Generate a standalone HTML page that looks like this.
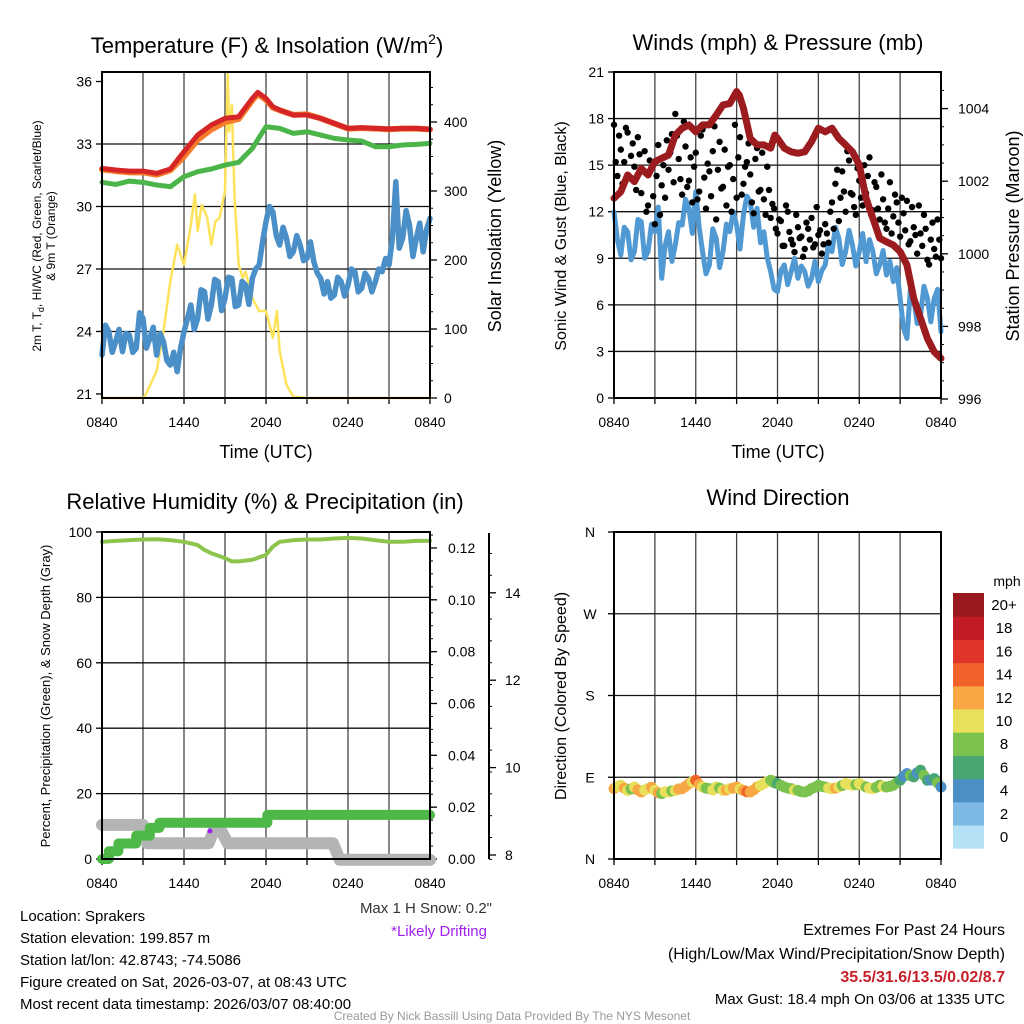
<!DOCTYPE html>
<html><head><meta charset="utf-8">
<style>
html,body{margin:0;padding:0;background:#fff;}
svg{display:block;font-family:"Liberation Sans",Arial,sans-serif;}
</style></head>
<body>
<svg id="chart" width="1024" height="1024" viewBox="0 0 1024 1024" xmlns="http://www.w3.org/2000/svg">
<rect width="1024" height="1024" fill="#fff"/>
<g id="layer"></g>
<text x="267" y="53" font-size="22" text-anchor="middle">Temperature (F) &amp; Insolation (W/m<tspan font-size="14" dy="-9">2</tspan><tspan dy="9">)</tspan></text>
<text x="778" y="50" font-size="22" text-anchor="middle">Winds (mph) &amp; Pressure (mb)</text>
<text x="265" y="509" font-size="22" text-anchor="middle">Relative Humidity (%) &amp; Precipitation (in)</text>
<text x="778" y="505" font-size="22" text-anchor="middle">Wind Direction</text>
<text x="266" y="458" font-size="18" text-anchor="middle">Time (UTC)</text>
<text x="778" y="458" font-size="18" text-anchor="middle">Time (UTC)</text>
<text font-size="12" text-anchor="middle" transform="translate(41,236) rotate(-90)">2m T, T<tspan font-size="9" dy="3">d</tspan><tspan dy="-3">, HI/WC (Red, Green, Scarlet/Blue)</tspan></text>
<text font-size="12" text-anchor="middle" transform="translate(55,236) rotate(-90)">&amp; 9m T (Orange)</text>
<text font-size="18" text-anchor="middle" transform="translate(501,236) rotate(-90)">Solar Insolation (Yellow)</text>
<text font-size="16" text-anchor="middle" transform="translate(566,236) rotate(-90)">Sonic Wind &amp; Gust (Blue, Black)</text>
<text font-size="18" text-anchor="middle" transform="translate(1019,236) rotate(-90)">Station Pressure (Maroon)</text>
<text font-size="13" text-anchor="middle" transform="translate(50,696) rotate(-90)">Percent, Precipitation (Green), &amp; Snow Depth (Gray)</text>
<text font-size="16" text-anchor="middle" transform="translate(566,696) rotate(-90)">Direction (Colored By Speed)</text>
<g font-size="15" fill="#000">
<text x="20" y="921">Location: Sprakers</text>
<text x="20" y="943">Station elevation: 199.857 m</text>
<text x="20" y="965">Station lat/lon: 42.8743; -74.5086</text>
<text x="20" y="987">Figure created on Sat, 2026-03-07, at 08:43 UTC</text>
<text x="20" y="1009">Most recent data timestamp: 2026/03/07 08:40:00</text>
<text x="492" y="913" text-anchor="end" fill="#333">Max 1 H Snow: 0.2"</text>
<text x="487" y="936" text-anchor="end" fill="#a020f0">*Likely Drifting</text>
<text x="1005" y="935" text-anchor="end" font-size="16">Extremes For Past 24 Hours</text>
<text x="1005" y="959" text-anchor="end" font-size="16">(High/Low/Max Wind/Precipitation/Snow Depth)</text>
<text x="1005" y="982" text-anchor="end" font-size="16" font-weight="bold" fill="#c8202a">35.5/31.6/13.5/0.02/8.7</text>
<text x="1005" y="1004" text-anchor="end" font-size="15">Max Gust: 18.4 mph On 03/06 at 1335 UTC</text>
</g>
<text x="512" y="1020" text-anchor="middle" font-size="12" fill="#999">Created By Nick Bassill Using Data Provided By The NYS Mesonet</text>
</svg>
<script>
// ---------- data ----------
const tempTimes = [0,1,2,3,4,5,6,7,8,9,10,11,11.4,12,12.5,13,14,15,16,17,18,19,20,21,22,23,24];
const tempRed = [31.83,31.75,31.70,31.70,31.59,31.80,32.63,33.43,33.91,34.23,34.31,35.19,35.48,35.19,34.79,34.63,34.39,34.39,34.23,33.99,33.75,33.78,33.75,33.72,33.75,33.75,33.70];
const tempOrange = [31.78,31.70,31.64,31.64,31.53,31.74,32.40,33.20,33.70,34.05,34.20,35.10,35.40,35.12,34.75,34.62,34.40,34.42,34.23,33.98,33.74,33.77,33.74,33.71,33.74,33.74,33.70];
const dewTimes = [0,1,2,3,4,5,6,7,8,9,10,11,12,13,14,15,16,17,18,19,20,21,22,23,24];
const dewGreen = [31.16,31.06,31.22,31.16,31.03,30.95,31.43,31.67,31.80,31.99,32.12,32.79,33.83,33.75,33.51,33.59,33.43,33.27,33.19,33.14,32.87,32.87,32.95,32.98,33.03];
// 15-minute series (index * 0.25 h)
const hiwcBlue = [22.87,24.3,23.99,23.0,23.51,24.1,23.03,23.9,23.83,23.0,23.19,24.9,24.63,23.2,23.67,24.2,22.87,23.9,23.51,22.6,22.39,23.0,22.07,23.2,23.99,24.6,25.27,24.1,24.63,26.0,25.91,24.6,25.27,26.5,26.39,25.0,25.59,26.6,26.55,25.2,25.27,26.4,26.23,25.3,26.55,27.0,27.19,28.3,29.27,30.0,29.75,28.6,28.15,29.0,28.47,27.6,27.83,28.6,28.15,27.4,27.51,28.3,27.35,26.8,26.55,25.8,26.39,25.6,25.75,26.6,26.39,25.7,26.23,27.0,26.87,25.9,26.07,26.8,26.55,25.9,26.39,27.0,26.87,27.5,27.19,28.5,31.19,28.0,28.47,29.8,29.1,27.6,28.47,29.2,27.83,28.9,29.43];
const solarTimes = [0,3,3.2,4,4.5,5,5.5,6,6.5,6.8,7,7.3,7.7,8,8.3,8.6,9,9.2,9.3,9.5,9.7,10,10.3,10.5,11,11.5,12,12.5,12.8,13,13.5,14,15,24];
const solarW = [0,0,5,39,97,169,222,193,251,295,242,280,261,222,256,261,300,470,386,425,290,193,174,183,145,126,126,87,126,68,19,2,0,0];

const windSpeed = [12.0,10.2,9.21,11.0,10.71,8.9,9.43,11.5,11.36,9.0,9.43,11.2,10.71,12.3,7.71,9.8,10.71,8.8,9.86,11.3,11.14,12.8,12.22,10.6,13.29,11.0,9.43,8.0,8.57,10.9,10.29,8.4,9.43,11.2,10.71,12.0,11.14,9.6,11.79,13.0,12.65,11.0,12.22,10.0,10.71,9.0,8.14,7.0,6.85,8.2,8.57,7.3,8.14,9.0,7.71,8.5,8.14,7.2,7.71,8.8,7.49,8.2,8.57,10.0,9.43,11.0,10.29,8.6,9.43,10.8,9.86,8.5,9.43,10.6,8.78,10.2,9.43,8.0,8.57,9.5,7.92,8.8,7.49,8.4,6.42,4.5,3.84,7.0,6.42,4.8,5.35,7.2,6.42,4.9,6.42,7.0,4.27];
const pressTimes = [0,0.5,1,1.5,2,2.5,3,3.5,4,4.5,5,5.5,6,6.5,7,7.5,8,8.5,9,9.2,9.5,10,10.5,11,11.5,11.8,12,12.5,13,13.5,14,14.5,15,15.5,16,16.5,17,17.5,18,18.5,19,19.5,20,20.5,21,21.5,22,22.5,23,23.5,24];
const pressMb = [1001.53,1001.71,1002.17,1001.99,1002.35,1002.17,1002.54,1002.63,1002.72,1003.27,1003.46,1003.55,1003.36,1003.55,1003.55,1003.82,1004.10,1004.14,1004.47,1004.37,1004.01,1003.18,1003.00,1003.00,1002.91,1003.27,1003.18,1002.91,1002.81,1002.77,1002.81,1003.09,1003.46,1003.36,1003.46,1003.18,1003.00,1002.81,1002.45,1001.53,1000.98,1000.43,1000.33,1000.24,1000.06,999.69,998.77,998.22,997.67,997.30,997.12];
const gustA = [17.6,14.3,16.0,15.2,17.1,15.6,14.9,16.8,13.2,15.9,12.4,14.8,11.2,16.3,13.7,12.9,14.7,17.0,18.3,15.4,13.1,16.2,14.0,12.6,15.8,13.3,17.3,12.2,14.6,15.9,11.5,16.5,13.6,12.4,15.0,14.1,12.9,16.8,13.8,15.2,14.4,11.9,16.1,13.4,12.8,14.9,11.6,12.2,10.6,11.4,9.8,12.0,10.2,9.4,11.0,10.4,9.6,10.9,11.6,9.9,10.5,9.3,11.2,10.0,12.6,13.8,11.4,14.6,12.0,15.3,13.1,11.8,14.0,12.4,13.2,15.5,12.1,13.6,11.5,12.8,10.9,13.9,11.7,12.6,10.4,11.9,12.7,10.1,11.0,9.3,10.6,11.8,8.9,10.2,9.6,11.5,9.0];
const gustB = [15.2,16.9,13.8,17.4,14.2,16.4,13.4,15.7,14.7,12.0,15.3,13.0,14.3,11.8,15.0,16.6,15.8,13.9,16.9,14.1,17.8,13.6,15.5,14.9,12.8,16.9,14.2,15.1,13.0,17.5,14.7,13.5,16.0,14.9,12.0,17.6,15.5,13.1,14.9,16.4,12.6,15.4,13.3,15.8,11.8,13.4,12.5,10.9,11.5,9.8,12.4,10.7,9.9,11.8,10.3,9.1,11.3,10.2,9.7,12.3,10.8,9.9,10.6,12.0,10.9,14.7,12.9,13.3,15.9,13.2,12.3,14.8,12.9,15.0,14.3,11.8,13.9,12.2,14.4,11.3,12.2,10.6,13.1,11.3,12.9,10.8,9.9,12.3,10.5,12.4,9.8,10.9,8.6,11.3,9.1,10.2];

const rhTimes = [0,1,2,3,4,5,6,7,7.5,8,9,9.5,10,11,12,12.5,13,14,15,16,17,18,19,20,21,22,23,24];
const rhPct = [97,97.3,97.5,97.7,97.8,97.5,97,96,94.5,93.5,92,91,91,91.5,93,95.5,97,97.5,97.7,97.7,98,98.2,98,97.5,97,97,97.3,97.3];
const precipTimes = [0,0.5,1.2,2.5,3.5,4.2,12.1,24];
const precipIn = [0,0.003,0.006,0.009,0.012,0.014,0.017,0.017];
const snowTimes = [0,3,3.3,7.8,8.2,8.7,9.2,16.9,17.4,24];
const snowIn = [8.69,8.69,8.27,8.27,8.57,8.57,8.27,8.27,7.89,7.89];
const driftTimes = [7.9];
const driftIn = [8.55];

const dirDeg = [77.5,80,81.2,78,75.6,77,79.3,76,73.8,76,77.5,79,75.6,73,72.0,74,73.8,75,75.6,77,77.5,80,83.0,85,86.7,82,79.3,78,77.5,76,79.3,78,75.6,76,77.5,78,79.3,77,75.6,74,73.8,76,79.3,81,83.0,85,86.7,84,83.0,81,79.3,78,77.5,76,75.6,74,73.8,75,77.5,79,81.2,80,79.3,78,77.5,78,79.3,81,83.0,82,81.2,82,83.0,81,79.3,78,77.5,79,81.2,80,79.3,80,81.2,84,86.7,91,94.0,92,90.4,95,97.7,92,86.7,87,88.5,84,79.3];

const xTickLabels = ["0840","1440","2040","0240","0840"];
const tempTicks = [21,24,27,30,33,36];
const solarTicks = [0,100,200,300,400];
const windTicks = [0,3,6,9,12,15,18,21];
const pressTicks = [996,998,1000,1002,1004];
const pctTicks = [0,20,40,60,80,100];
const precipTicks = [0,0.02,0.04,0.06,0.08,0.10,0.12];
const snowTicks = [8,10,12,14];
const dirTicks = ["N","E","S","W","N"];
const cbLabels = ["0","2","4","6","8","10","12","14","16","18","20+"];
const cbColors = ["#b5e1f6","#7db9e3","#4b8fc5","#48a673","#7cc24f","#e7e05a","#f7a744","#f06229","#df3427","#c11c26","#991a1e"];

// ---------- helpers ----------
const NS = "http://www.w3.org/2000/svg";
const layer = document.getElementById("layer");
function mk(tag, attrs, parent){
  const e = document.createElementNS(NS, tag);
  for (const k in attrs) e.setAttribute(k, attrs[k]);
  (parent||layer).appendChild(e);
  return e;
}
function txt(s, x, y, size, anchor, parent){
  const e = mk("text", {x:x, y:y, "font-size":size, "text-anchor":anchor||"middle"}, parent);
  e.textContent = s;
  return e;
}
function P(x0,x1,y0,y1){ return {x0,x1,y0,y1, x:t=>x0+t/24*(x1-x0)}; }
const p1 = P(102,430,72,398), p2 = P(614,941,72,398), p3 = P(102,430,532,859), p4 = P(614,941,532,859);
const yTemp = T => 144 + (33-T)*20.83;
const ySolar = W => 398 - W*0.69;
const yWind = v => 398 - v*15.524;
const yPress = p => 399 - (p-996)*36.3;
const yPct = p => 859 - p*3.27;
const yPrecip = v => 859 - v*2592;
const ySnow = s => 855 - (s-8)*43.7;
const yDir = d => 859 - d*0.9083;
const qTimes = arr => arr.map((_,i)=>i*0.25);

function frame(p, name, hLines){
  const g = mk("g", {});
  
  
  for (let h=3; h<24; h+=3){
    mk("line", {x1:p.x(h), x2:p.x(h), y1:p.y0, y2:p.y1, stroke:"#444", "stroke-width":1.3}, g);
  }
  hLines.forEach(y=>mk("line", {x1:p.x0, x2:p.x1, y1:y, y2:y, stroke:"#111", "stroke-width":1.3}, g));
  for (let h=0; h<=24; h+=3) mk("line", {x1:p.x(h), x2:p.x(h), y1:p.y1, y2:p.y1+6, stroke:"#000", "stroke-width":1.3}, g);
  xTickLabels.forEach((s,i)=>{
    const t = txt(s, p.x(i*6), p.y1+29, 14, "middle", g);
    
    
  });
  return g;
}
function border(p, name){
  const r = mk("rect", {x:p.x0, y:p.y0, width:p.x1-p.x0, height:p.y1-p.y0, fill:"none", stroke:"#000", "stroke-width":2});
  
  
}
function line(p, ts, vs, yf, color, w, name, step){
  let d = "";
  ts.forEach((t,i)=>{
    const x = p.x(t), y = yf(vs[i]);
    if (i===0) d += "M"+x+" "+y;
    else {
      if (step) d += " L"+x+" "+yf(vs[i-1]);
      d += " L"+x+" "+y;
    }
  });
  const e = mk("path", {d:d, fill:"none", stroke:color, "stroke-width":w, "stroke-linejoin":"round", "stroke-linecap":"round"});
  
  
  return e;
}
function leftTicks(p, vals, yf, fmt, name){
  vals.forEach(v=>{
    mk("line", {x1:p.x0-6, x2:p.x0, y1:yf(v), y2:yf(v), stroke:"#000", "stroke-width":1.3});
    const t = txt(fmt(v), p.x0-10, yf(v)+5, 14, "end");
    
    
  });
}
function rightTicks(x, vals, yf, fmt, name, lx, minorStep, lo, hi){
  if (minorStep){
    for (let v=lo; v<=hi+1e-9; v+=minorStep) mk("line", {x1:x, x2:x+3, y1:yf(v), y2:yf(v), stroke:"#000", "stroke-width":1});
  }
  vals.forEach(v=>{
    mk("line", {x1:x, x2:x+7, y1:yf(v), y2:yf(v), stroke:"#000", "stroke-width":1.3});
    const t = txt(fmt(v), lx, yf(v)+5, 14, "start");
    
    
  });
}

// ---------- panel 1 ----------
frame(p1, "temp-grid", [33,30,27,24].map(yTemp));
leftTicks(p1, tempTicks, yTemp, v=>String(v), "temp-y-tick");
rightTicks(p1.x1, solarTicks, ySolar, v=>String(v), "solar-y-tick", 444, 25, 0, 470);
line(p1, solarTimes, solarW, ySolar, "#fde35c", 2.5, "solar-line");
line(p1, qTimes(hiwcBlue), hiwcBlue, yTemp, "#4a8fc7", 5.5, "hiwc-line");
line(p1, dewTimes, dewGreen, yTemp, "#4bb54a", 5, "dewpoint-line");
line(p1, tempTimes, tempOrange, yTemp, "#f47b2a", 6, "temp-9m-line");
line(p1, tempTimes, tempRed, yTemp, "#d62527", 5, "temp-2m-line");
border(p1, "temp-plot-frame");

// ---------- panel 2 ----------
frame(p2, "wind-grid", [3,6,9,12,15,18].map(yWind));
leftTicks(p2, windTicks, yWind, v=>String(v), "wind-y-tick");
rightTicks(p2.x1, pressTicks, yPress, v=>String(v), "pressure-y-tick", 958, 0.5, 996, 1004.5);
line(p2, qTimes(windSpeed), windSpeed, yWind, "#5199d3", 5, "wind-speed-line");
gustA.forEach((g,i)=>{
  const c = mk("circle", {cx:p2.x(i*0.25), cy:yWind(g), r:3.2, fill:"#000"});
  
  
});
gustB.forEach((g,i)=>{
  const c = mk("circle", {cx:p2.x(i*0.25+0.125), cy:yWind(g), r:3.2, fill:"#000"});
  
  
});
line(p2, pressTimes, pressMb, yPress, "#9b1b1e", 7, "pressure-line");
border(p2, "wind-plot-frame");

// ---------- panel 3 ----------
frame(p3, "humidity-grid", [20,40,60,80].map(yPct));
leftTicks(p3, pctTicks, yPct, v=>String(v), "percent-y-tick");
rightTicks(p3.x1, precipTicks, yPrecip, v=>v.toFixed(2), "precip-y-tick", 448, 0.005, 0, 0.125);
const snowAxis = mk("line", {x1:489, x2:489, y1:533, y2:859, stroke:"#000", "stroke-width":2});


rightTicks(489, snowTicks, ySnow, v=>String(v), "snow-y-tick", 505, 0.5, 7.9, 15.1);
line(p3, snowTimes, snowIn, ySnow, "#b4b4b4", 12, "snow-depth-line");
line(p3, precipTimes, precipIn, yPrecip, "#4db848", 10, "precip-line", true);
line(p3, rhTimes, rhPct, yPct, "#8dc44d", 4, "humidity-line");
driftTimes.forEach((t,i)=>{
  const c = mk("circle", {cx:p3.x(t), cy:ySnow(driftIn[i]), r:2.5, fill:"#a020f0"});
  
  
});
border(p3, "humidity-plot-frame");

// ---------- panel 4 ----------
frame(p4, "direction-grid", [90,180,270].map(yDir));
dirTicks.forEach((s,i)=>{
  mk("line", {x1:p4.x0-6, x2:p4.x0, y1:yDir(i*90), y2:yDir(i*90), stroke:"#000", "stroke-width":1.3});
  const t = txt(s, 590, yDir(i*90)+5, 14, "middle");
  
  
});
function speedColor(v){
  const i = Math.floor((v+1)/2);
  return cbColors[Math.max(0, Math.min(10, i))];
}
dirDeg.forEach((d,i)=>{
  const c = mk("circle", {cx:p4.x(i*0.25), cy:yDir(d), r:5.5, fill:speedColor(windSpeed[i])});
  
  
});
border(p4, "direction-plot-frame");
const cbH = 23.2, cbTop = 593;
cbColors.forEach((col,i)=>{
  const k = 10 - i;
  const r = mk("rect", {x:953, y:cbTop + k*cbH, width:31, height:cbH+0.5, fill:col});
  
  
  const t = txt(cbLabels[i], 1004, cbTop + k*cbH + 17, 15, "middle");
  
  
});
const mph = txt("mph", 1007, 586, 14, "middle");


</script>
</body></html>
